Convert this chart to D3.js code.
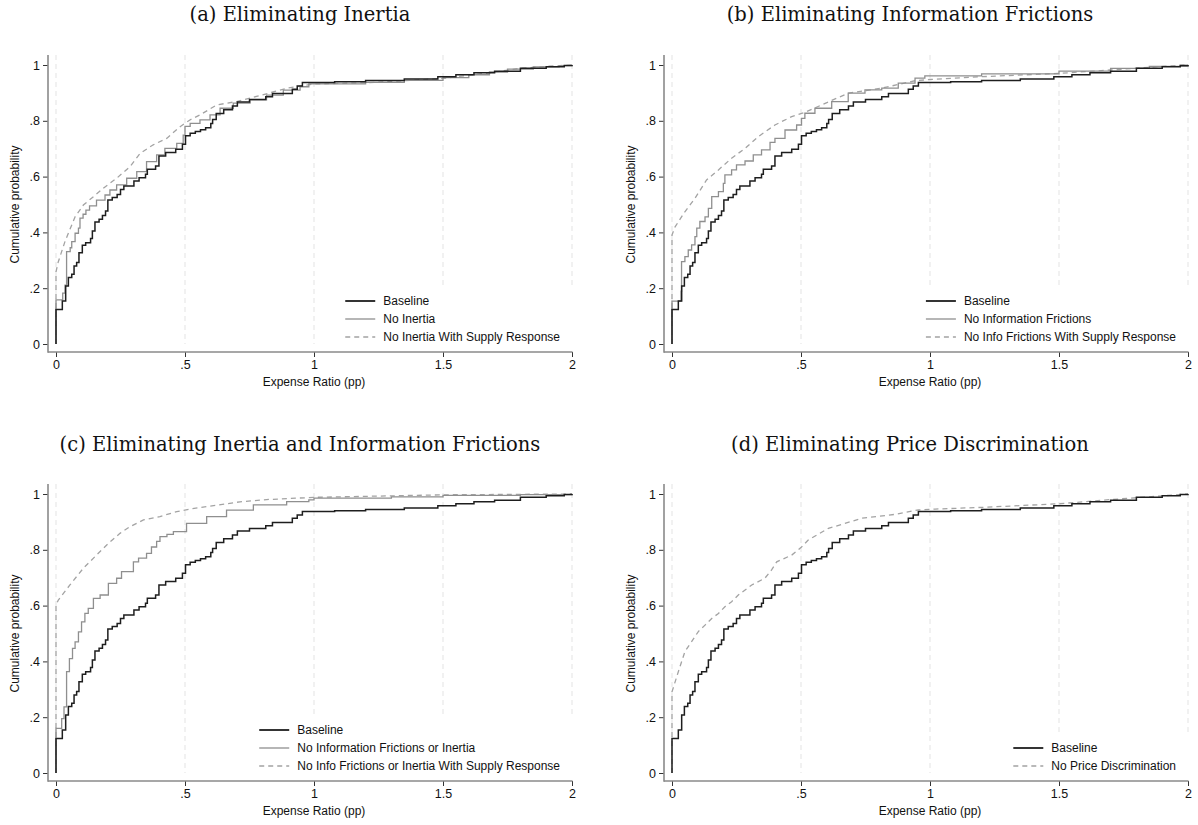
<!DOCTYPE html>
<html><head><meta charset="utf-8">
<script src="https://cdn.jsdelivr.net/npm/d3@7"></script>
<style>body{margin:0;background:#fff;} svg{display:block;}</style>
</head><body>
<svg id="c" width="1198" height="825"></svg>
<script>
// ---------- data ----------
const xTicks = [0, 0.5, 1, 1.5, 2];
const xTickLabels = ["0", ".5", "1", "1.5", "2"];
const yTicks = [0, 0.2, 0.4, 0.6, 0.8, 1];
const yTickLabels = ["0", ".2", ".4", ".6", ".8", "1"];

const titles = ["(a) Eliminating Inertia", "(b) Eliminating Information Frictions",
  "(c) Eliminating Inertia and Information Frictions", "(d) Eliminating Price Discrimination"];
const xTitle = "Expense Ratio (pp)";
const yTitle = "Cumulative probability";

const baseline = [[0,0],[0,0.124],[0.0245,0.154],[0.0375,0.208],[0.048,0.238],[0.061,0.250],[0.070,0.280],[0.080,0.292],[0.089,0.327],[0.102,0.354],[0.115,0.363],[0.134,0.378],[0.141,0.405],[0.151,0.437],[0.167,0.447],[0.180,0.461],[0.192,0.477],[0.201,0.516],[0.218,0.525],[0.237,0.536],[0.250,0.554],[0.263,0.566],[0.302,0.584],[0.322,0.596],[0.347,0.608],[0.354,0.626],[0.386,0.638],[0.399,0.674],[0.425,0.686],[0.464,0.698],[0.490,0.716],[0.502,0.746],[0.52,0.755],[0.54,0.762],[0.56,0.768],[0.58,0.775],[0.60,0.790],[0.607,0.805],[0.621,0.826],[0.65,0.840],[0.684,0.853],[0.703,0.867],[0.75,0.876],[0.813,0.886],[0.839,0.898],[0.916,0.913],[0.935,0.925],[0.955,0.937],[1.08,0.940],[1.2,0.944],[1.35,0.950],[1.48,0.958],[1.55,0.965],[1.62,0.972],[1.7,0.978],[1.8,0.988],[1.9,0.994],[1.97,0.998],[2.0,1.0]];

const noInertia = [[0,0],[0,0.158],[0.026,0.182],[0.035,0.211],[0.041,0.331],[0.055,0.345],[0.061,0.367],[0.074,0.397],[0.087,0.415],[0.093,0.451],[0.105,0.465],[0.116,0.480],[0.13,0.495],[0.157,0.516],[0.19,0.534],[0.209,0.552],[0.235,0.570],[0.274,0.594],[0.313,0.618],[0.351,0.654],[0.39,0.678],[0.422,0.701],[0.468,0.719],[0.493,0.749],[0.50,0.780],[0.52,0.791],[0.558,0.803],[0.597,0.821],[0.636,0.845],[0.687,0.863],[0.752,0.875],[0.816,0.892],[0.881,0.910],[0.946,0.922],[0.98,0.932],[1.2,0.938],[1.35,0.945],[1.5,0.955],[1.6,0.965],[1.68,0.975],[1.75,0.985],[1.85,0.993],[1.95,0.998],[2,1]];

const noInertiaSupply = [[0,0],[0,0.259],[0.009,0.295],[0.035,0.368],[0.074,0.456],[0.106,0.498],[0.145,0.528],[0.183,0.558],[0.235,0.594],[0.287,0.636],[0.326,0.683],[0.377,0.714],[0.429,0.737],[0.481,0.779],[0.519,0.803],[0.558,0.821],[0.623,0.857],[0.70,0.869],[0.80,0.893],[0.90,0.918],[1.0,0.932],[1.2,0.936],[1.5,0.952],[1.68,0.972],[1.8,0.988],[1.9,0.995],[2,1]];

const noInfo = [[0,0],[0,0.154],[0.035,0.189],[0.037,0.295],[0.050,0.313],[0.063,0.337],[0.076,0.355],[0.089,0.385],[0.096,0.415],[0.108,0.439],[0.128,0.456],[0.141,0.486],[0.154,0.528],[0.180,0.546],[0.199,0.576],[0.205,0.606],[0.231,0.624],[0.250,0.642],[0.283,0.656],[0.315,0.678],[0.347,0.696],[0.380,0.723],[0.399,0.737],[0.438,0.767],[0.483,0.785],[0.502,0.809],[0.515,0.827],[0.554,0.845],[0.619,0.869],[0.683,0.899],[0.748,0.911],[0.813,0.917],[0.877,0.935],[0.942,0.953],[0.98,0.961],[1.2,0.968],[1.5,0.978],[1.7,0.988],[1.85,0.995],[2,1]];

const noInfoSupply = [[0,0],[0,0.391],[0.012,0.420],[0.050,0.474],[0.089,0.522],[0.134,0.588],[0.180,0.624],[0.231,0.666],[0.283,0.701],[0.334,0.743],[0.399,0.785],[0.464,0.815],[0.515,0.830],[0.580,0.857],[0.683,0.899],[0.813,0.917],[0.944,0.944],[1.0,0.948],[1.2,0.958],[1.5,0.970],[1.7,0.982],[1.9,0.995],[2,1]];

const noInfoInertia = [[0,0],[0,0.160],[0.022,0.195],[0.031,0.237],[0.041,0.363],[0.052,0.410],[0.064,0.447],[0.074,0.470],[0.087,0.506],[0.099,0.542],[0.112,0.572],[0.125,0.590],[0.145,0.626],[0.171,0.638],[0.203,0.680],[0.235,0.698],[0.254,0.722],[0.300,0.757],[0.32,0.770],[0.351,0.787],[0.37,0.810],[0.39,0.830],[0.403,0.847],[0.43,0.855],[0.455,0.865],[0.506,0.895],[0.584,0.919],[0.661,0.942],[0.765,0.961],[0.894,0.973],[0.98,0.979],[1.0,0.985],[1.3,0.990],[1.5,0.995],[1.8,0.998],[2,1]];

const noInfoInertiaSupply = [[0,0],[0,0.602],[0.009,0.620],[0.054,0.674],[0.106,0.734],[0.157,0.781],[0.203,0.823],[0.248,0.859],[0.287,0.883],[0.339,0.907],[0.403,0.919],[0.468,0.937],[0.519,0.946],[0.623,0.960],[0.713,0.972],[0.816,0.980],[1.0,0.988],[1.5,0.997],[2,1]];

const noPriceDisc = [[0,0],[0,0.291],[0.0245,0.363],[0.050,0.435],[0.076,0.471],[0.102,0.507],[0.128,0.530],[0.154,0.554],[0.180,0.572],[0.205,0.596],[0.231,0.614],[0.257,0.638],[0.309,0.674],[0.360,0.698],[0.386,0.728],[0.406,0.757],[0.464,0.781],[0.502,0.810],[0.528,0.835],[0.606,0.877],[0.658,0.891],[0.735,0.913],[0.864,0.927],[0.955,0.943],[1.02,0.946],[1.2,0.952],[1.5,0.965],[1.7,0.980],[1.85,0.990],[2,1]];

const panelSeries = [
  [["Baseline", baseline, "base"], ["No Inertia", noInertia, "alt"], ["No Inertia With Supply Response", noInertiaSupply, "dash"]],
  [["Baseline", baseline, "base"], ["No Information Frictions", noInfo, "alt"], ["No Info Frictions With Supply Response", noInfoSupply, "dash"]],
  [["Baseline", baseline, "base"], ["No Information Frictions or Inertia", noInfoInertia, "alt"], ["No Info Frictions or Inertia With Supply Response", noInfoInertiaSupply, "dash"]],
  [["Baseline", baseline, "base"], ["No Price Discrimination", noPriceDisc, "dash"]]
];

// ---------- layout / style ----------
const SANS = "'Liberation Sans', Arial, Helvetica, sans-serif";
const SERIF = "'DejaVu Serif', serif";
const styles = {
  base: {stroke: "#1e1e1e", width: 1.5, dash: null, curve: d3.curveStepAfter},
  alt:  {stroke: "#8f8f8f", width: 1.3, dash: null, curve: d3.curveStepAfter},
  dash: {stroke: "#a3a3a3", width: 1.3, dash: "5,4", curve: d3.curveLinear}
};
const offsets = [[0,0],[616,0],[0,429],[616,429]];
const titleCX = [300, 910, 300, 910];
const titleY = [14, 14, 444, 444];

const svg = d3.select("#c");
svg.append("rect").attr("width",1198).attr("height",825).attr("fill","#fff");

panelSeries.forEach((series, i) => {
  const [ox, oy] = offsets[i];
  const g = svg.append("g").attr("transform", `translate(${ox},${oy})`);
  const x = d3.scaleLinear().domain([0,2]).range([56,572]);
  const y = d3.scaleLinear().domain([0,1]).range([344,65]);
  const plotTop = 55, axisY = 352, axisX = 48;

  // title
  svg.append("text").attr("x", titleCX[i]).attr("y", titleY[i])
    .attr("text-anchor","middle").attr("dominant-baseline","central")
    .style("font-family", SERIF).style("font-size","19.5px").attr("fill","#111")
    .text(titles[i]);

  // gridlines
  g.append("g").selectAll("line").data(xTicks).join("line")
    .attr("x1", d => x(d)).attr("x2", d => x(d))
    .attr("y1", plotTop).attr("y2", y(0))
    .attr("stroke", "#e3e3e3").attr("stroke-width", 1).attr("stroke-dasharray","5,4");

  // legend geometry
  const lg = g.append("g");
  const rowH = 18;
  const n = series.length;
  const lastRowY = axisY - 15;
  const tmp = lg.selectAll("text.tmp").data(series).join("text")
    .style("font-family", SANS).style("font-size","12px").text(d => d[0]);
  const maxW = d3.max(tmp.nodes(), nd => nd.getComputedTextLength());
  tmp.remove();
  const textX = 560 - maxW;
  const sampleX1 = textX - 38, sampleX2 = textX - 8;
  const firstRowY = lastRowY - (n-1)*rowH;
  lg.append("rect").attr("x", sampleX1 - 24).attr("y", firstRowY - 14)
    .attr("width", 575 - (sampleX1 - 24) + 3).attr("height", axisY - (firstRowY - 14) - 2)
    .attr("fill", "#fff");

  // lines
  const gl = g.append("g");
  series.slice().reverse().forEach(s => {
    const st = styles[s[2]];
    const line = d3.line().x(d => x(d[0])).y(d => y(d[1])).curve(st.curve);
    gl.append("path").datum(s[1]).attr("d", line)
      .attr("fill","none").attr("stroke", st.stroke).attr("stroke-width", st.width)
      .attr("stroke-dasharray", st.dash).attr("stroke-linejoin","miter");
  });

  // legend entries
  series.forEach((s, k) => {
    const st = styles[s[2]];
    const ry = firstRowY + k*rowH;
    lg.append("line").attr("x1", sampleX1).attr("x2", sampleX2).attr("y1", ry).attr("y2", ry)
      .attr("stroke", st.stroke).attr("stroke-width", s[2]==="base" ? 1.8 : 1.3)
      .attr("stroke-dasharray", st.dash);
    lg.append("text").attr("x", textX).attr("y", ry).attr("dominant-baseline","central")
      .style("font-family", SANS).style("font-size","12px").attr("fill","#111").text(s[0]);
  });
  lg.raise();

  // axes
  const xa = g.append("g").attr("transform", `translate(0,${axisY})`)
    .call(d3.axisBottom(x).tickValues(xTicks).tickFormat((d,j) => xTickLabels[j]).tickSize(5).tickPadding(3));
  xa.select(".domain").remove();
  xa.selectAll("line").attr("stroke","#333");
  xa.selectAll("text").style("font-family", SANS).style("font-size","12.5px").attr("fill","#111");

  const ya = g.append("g").attr("transform", `translate(${axisX},0)`)
    .call(d3.axisLeft(y).tickValues(yTicks).tickFormat((d,j) => yTickLabels[j]).tickSize(5).tickPadding(3));
  ya.select(".domain").remove();
  ya.selectAll("line").attr("stroke","#333");
  ya.selectAll("text").style("font-family", SANS).style("font-size","12.5px").attr("fill","#111");

  g.append("line").attr("x1", axisX).attr("x2", 572.5).attr("y1", axisY).attr("y2", axisY)
    .attr("stroke","#8a8a8a").attr("stroke-width",1.6);
  g.append("line").attr("x1", axisX).attr("x2", axisX).attr("y1", plotTop).attr("y2", axisY + 0.8)
    .attr("stroke","#8a8a8a").attr("stroke-width",1.6);

  // axis titles
  g.append("text").attr("x", 314).attr("y", 382).attr("text-anchor","middle")
    .attr("dominant-baseline","central").style("font-family", SANS).style("font-size","12px")
    .attr("fill","#111").text(xTitle);
  g.append("text").attr("transform", `translate(15,${(65+344)/2}) rotate(-90)`)
    .attr("text-anchor","middle").attr("dominant-baseline","central")
    .style("font-family", SANS).style("font-size","12px").attr("fill","#111").text(yTitle);
});
</script>
</body></html>
